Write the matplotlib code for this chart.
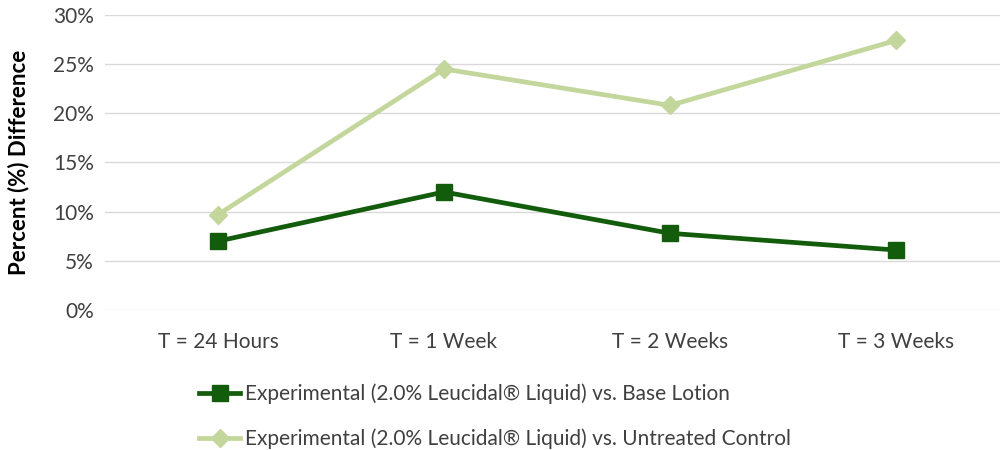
import matplotlib

matplotlib.use("Agg")
import matplotlib.pyplot as plt
from matplotlib.ticker import PercentFormatter

plt.rcParams["font.family"] = ["Lato", "DejaVu Sans"]

# data
categories = ["T = 24 Hours", "T = 1 Week", "T = 2 Weeks", "T = 3 Weeks"]
base_lotion = [7.0, 12.0, 7.8, 6.1]
untreated = [9.7, 24.5, 20.8, 27.4]
labels = [
    "Experimental (2.0% Leucidal® Liquid) vs. Base Lotion",
    "Experimental (2.0% Leucidal® Liquid) vs. Untreated Control",
]
yticks = [0, 5, 10, 15, 20, 25, 30]

DARK = "#125C0C"
LIGHT = "#C3D69B"

fig = plt.figure(figsize=(10, 4.5), dpi=100)
ax = fig.add_axes([0.105, 0.311, 0.904, 0.656])

x = list(range(len(categories)))
ax.plot(x, base_lotion, color=DARK, lw=3.4, marker="s", ms=11, label=labels[0])
ax.plot(x, untreated, color=LIGHT, lw=3.4, marker="D", ms=9, label=labels[1])

ax.set_xlim(-0.5, len(categories) - 0.5)
ax.set_ylim(0, 30)
ax.set_yticks(yticks)
ax.yaxis.set_major_formatter(PercentFormatter(decimals=0))
ax.set_xticks(x)
ax.set_xticklabels(categories)
ax.tick_params(length=0, labelsize=15, colors="#404040", pad=8)
ax.tick_params(axis="x", pad=16)
ax.grid(axis="y", color="#D9D9D9", lw=1)
ax.set_axisbelow(True)
for s in ax.spines.values():
    s.set_visible(False)

ax.set_ylabel("Percent (%) Difference", fontsize=16, fontweight="bold")
ax.yaxis.set_label_coords(-0.084, 0.5)

fig.legend(
    loc="upper left",
    bbox_to_anchor=(0.18, 0.19),
    frameon=False,
    fontsize=15,
    handlelength=2.0,
    handletextpad=0.2,
    labelspacing=1.2,
    labelcolor="#404040",
)

fig.savefig("out.png", dpi=100)
